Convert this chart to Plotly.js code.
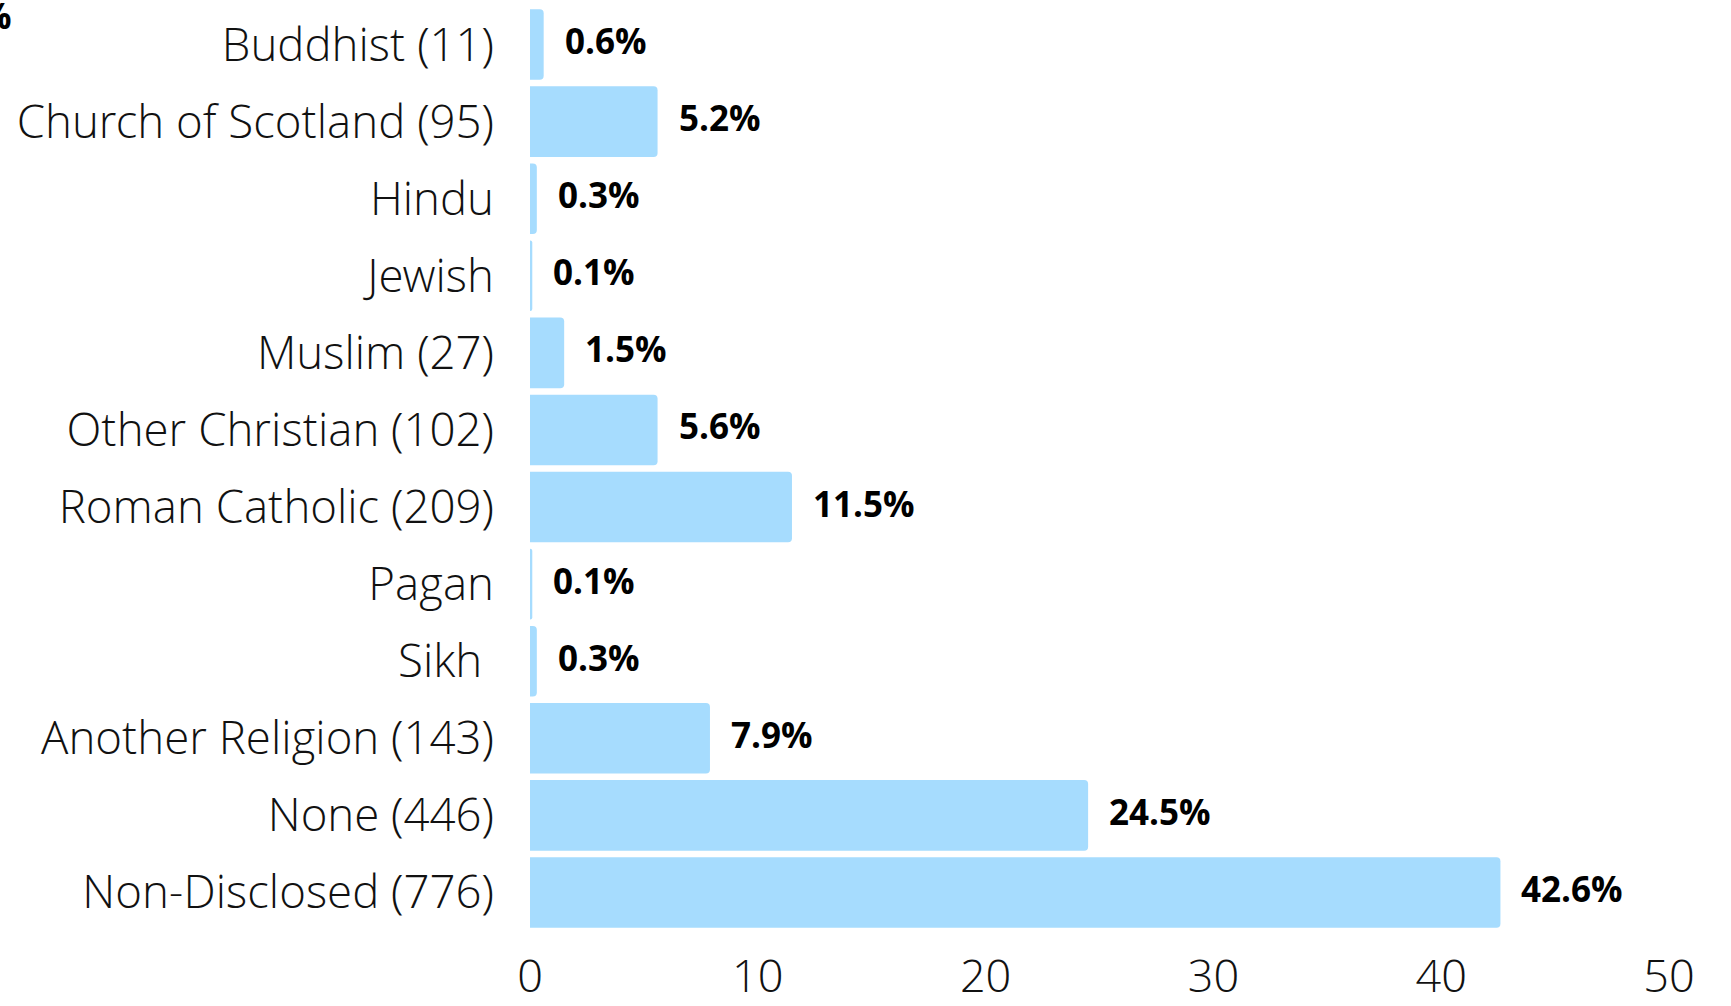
<!DOCTYPE html>
<html>
<head>
<meta charset="utf-8">
<script src="https://cdn.plot.ly/plotly-3.0.1.min.js"></script>
<style>
  html, body { margin: 0; padding: 0; background: #ffffff; }
  #chart { width: 1731px; height: 1006px; }
</style>
</head>
<body>
<div id="chart"></div>
<script>
// Categories (top to bottom)
const categories = [
  "Buddhist (11)",
  "Church of Scotland (95)",
  "Hindu",
  "Jewish",
  "Muslim (27)",
  "Other Christian (102)",
  "Roman Catholic (209)",
  "Pagan",
  "Sikh\u00a0",
  "Another Religion (143)",
  "None (446)",
  "Non-Disclosed (776)"
];
// Bar lengths as drawn (percent)
const barValues = [0.6, 5.6, 0.3, 0.1, 1.5, 5.6, 11.5, 0.1, 0.3, 7.9, 24.5, 42.6];
// Label texts shown next to bars
const pctLabels = ["0.6%", "5.2%", "0.3%", "0.1%", "1.5%", "5.6%", "11.5%", "0.1%", "0.3%", "7.9%", "24.5%", "42.6%"];
// X axis ticks
const xTicks = [0, 10, 20, 30, 40, 50];

const barColor = "#A6DCFE";
const fontFam = "'Open Sans', 'Noto Sans', sans-serif";
const lightFam = "'Open Sans Light', 'Open Sans', 'Noto Sans', sans-serif";

const trace = {
  type: "bar",
  orientation: "h",
  y: categories,
  x: barValues,
  marker: { color: barColor, line: { width: 0 } },
  hoverinfo: "none"
};

const annotations = categories.map((c, i) => ({
  x: barValues[i],
  y: c,
  xref: "x",
  yref: "y",
  text: pctLabels[i],
  showarrow: false,
  xanchor: "left",
  yanchor: "middle",
  xshift: 19,
  yshift: 4,
  font: { family: fontFam, size: 35, color: "#000000", weight: 700 }
}));

annotations.push({
  xref: "paper",
  yref: "paper",
  x: -0.453,
  y: 0.99,
  xanchor: "right",
  yanchor: "middle",
  text: "%",
  showarrow: false,
  font: { family: fontFam, size: 35, color: "#000000", weight: 700 }
});

const layout = {
  width: 1731,
  height: 1006,
  margin: { l: 530, r: 62, t: 6, b: 75, pad: 0 },
  paper_bgcolor: "#ffffff",
  plot_bgcolor: "#ffffff",
  showlegend: false,
  bargap: 0.085,
  barcornerradius: 4,
  font: { family: fontFam, color: "#111111" },
  xaxis: {
    range: [0, 50],
    tickvals: xTicks,
    ticktext: xTicks.map(String),
    showgrid: false,
    zeroline: false,
    showline: false,
    ticks: "",
    ticklabelstandoff: 15,
    tickfont: { family: lightFam, size: 45, color: "#111111", weight: 300 },
    fixedrange: true
  },
  yaxis: {
    autorange: "reversed",
    type: "category",
    showgrid: false,
    zeroline: false,
    showline: false,
    ticks: "",
    ticklabelstandoff: 35,
    tickfont: { family: lightFam, size: 45.6, color: "#111111", weight: 300 },
    fixedrange: true
  },
  annotations: annotations
};

Plotly.newPlot("chart", [trace], layout, { displayModeBar: false, staticPlot: true });
</script>
</body>
</html>
